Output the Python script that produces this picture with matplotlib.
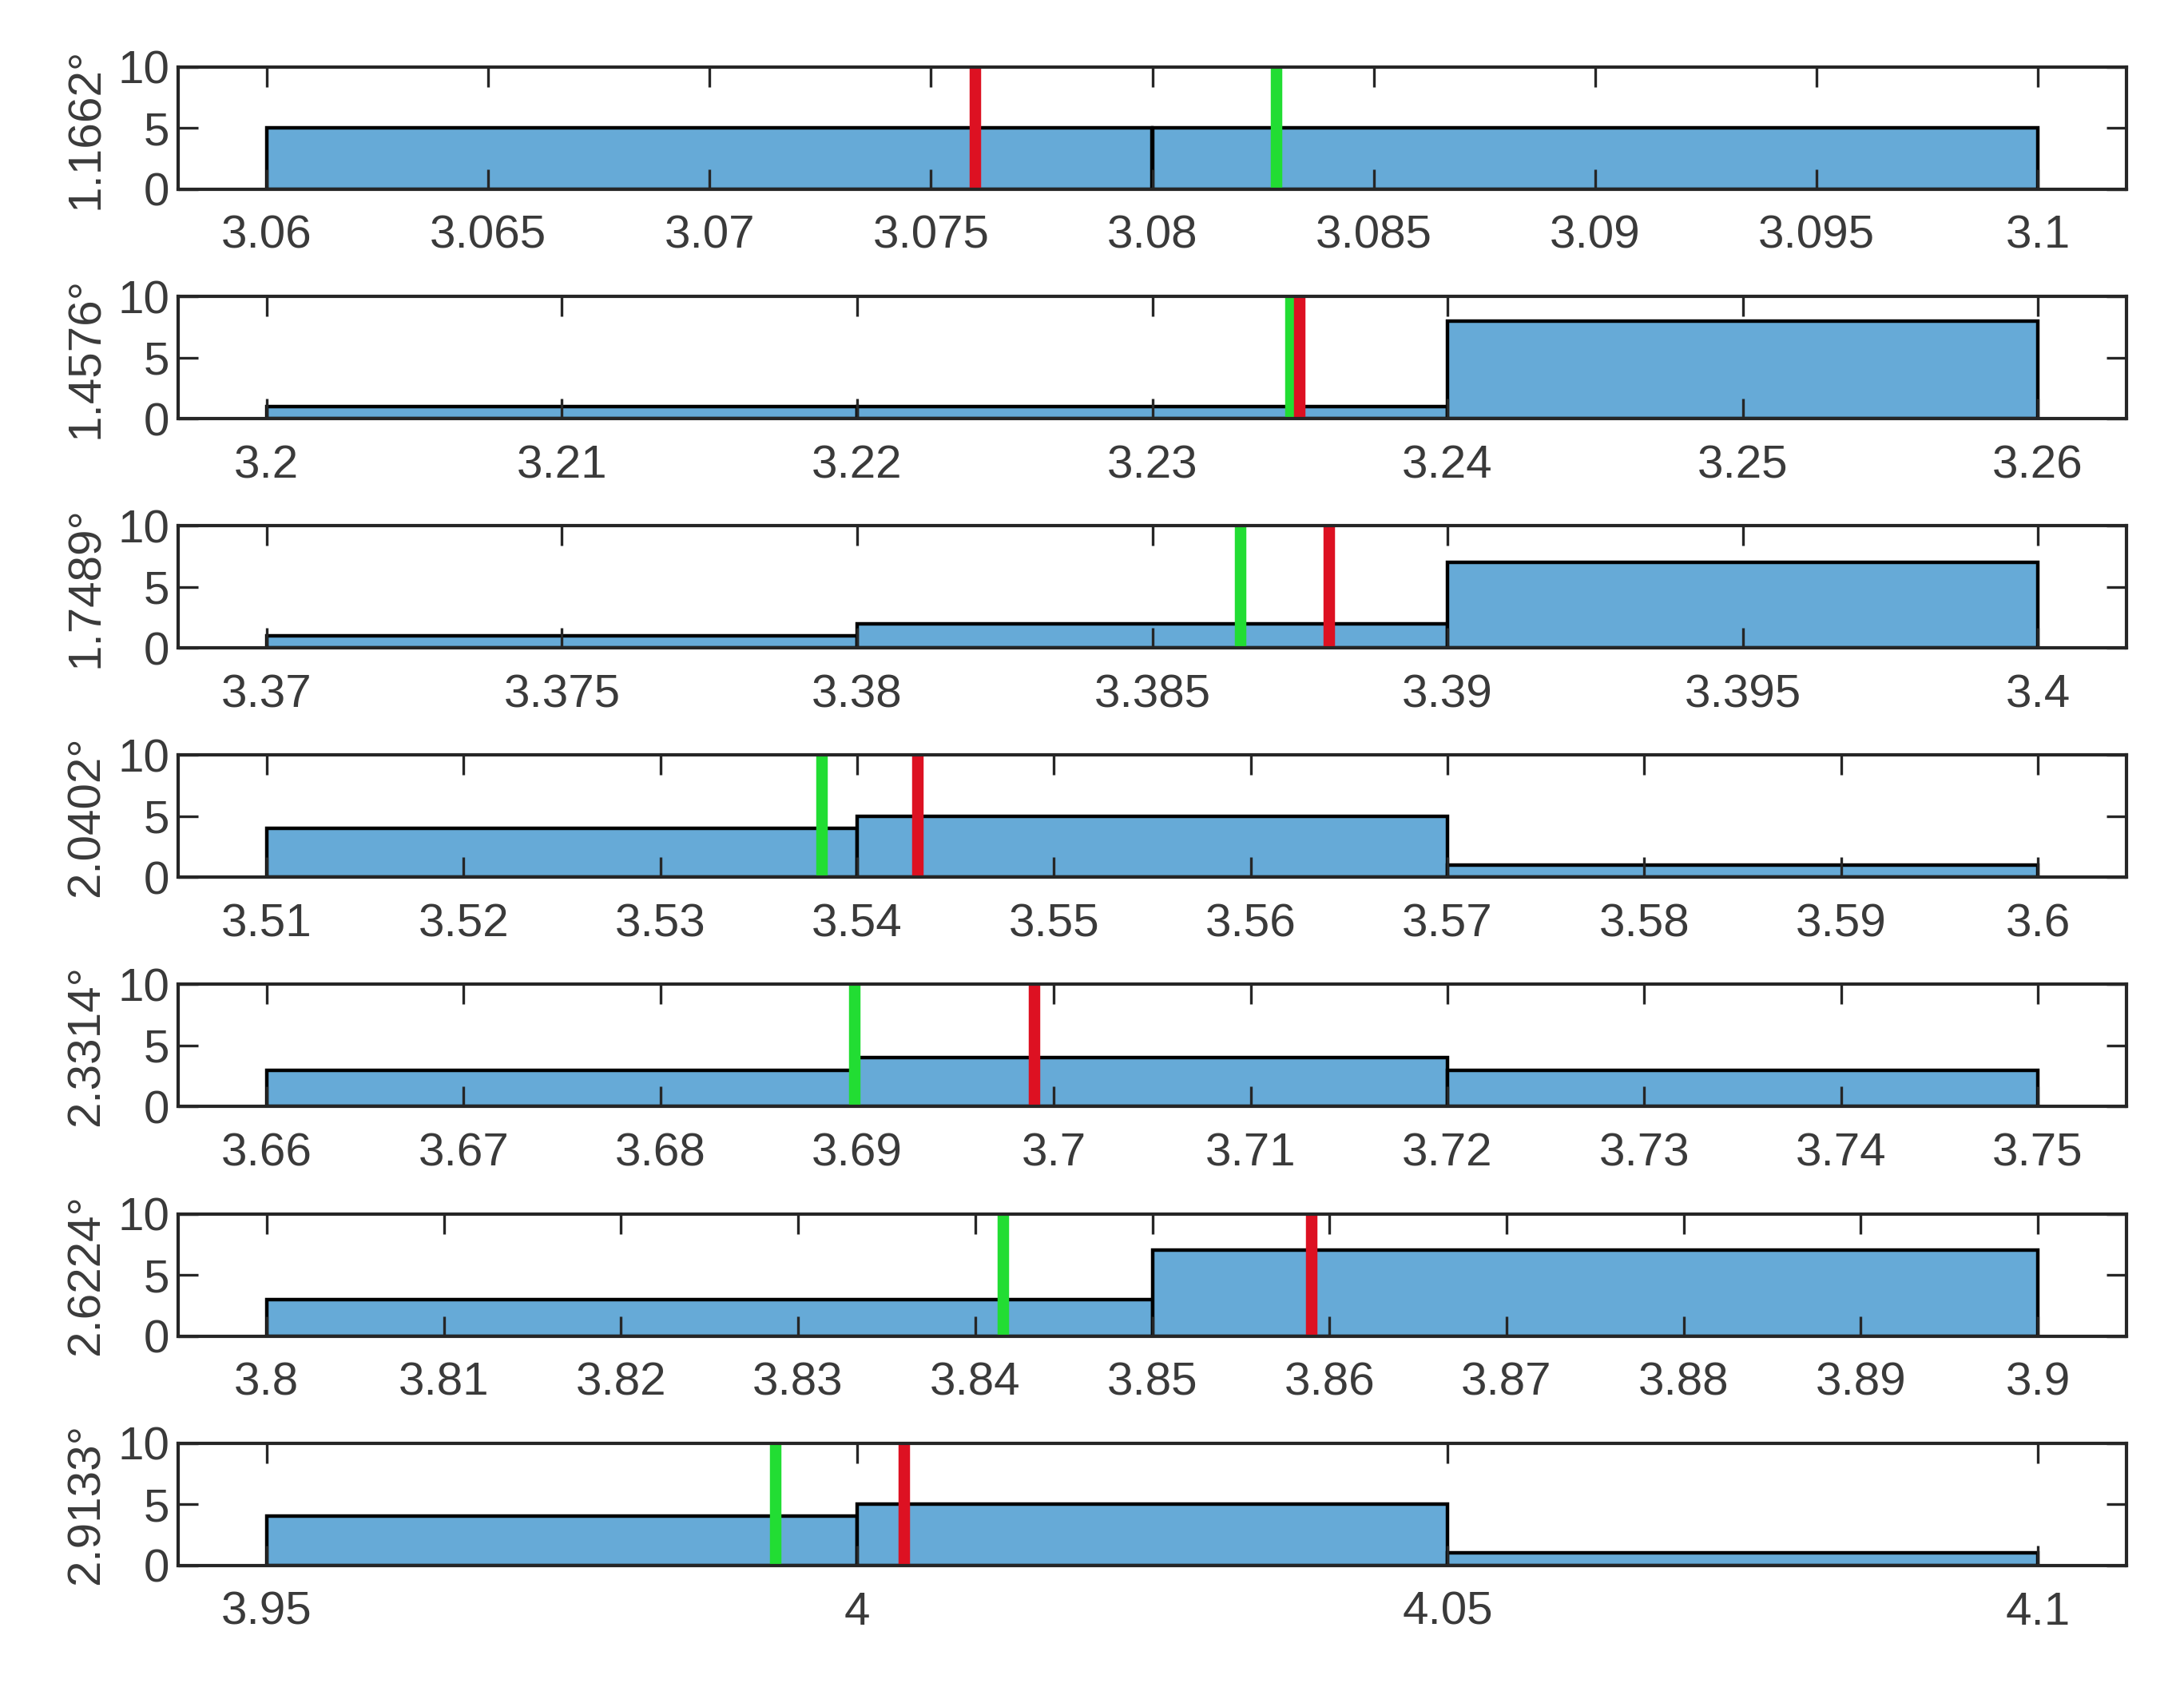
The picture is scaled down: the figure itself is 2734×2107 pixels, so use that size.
import numpy as np
import matplotlib
matplotlib.use("Agg")
import matplotlib.pyplot as plt
from matplotlib.ticker import FuncFormatter

# angle labels for each panel
angles = ["1.1662°", "1.4576°", "1.7489°", "2.0402°", "2.3314°", "2.6224°", "2.9133°"]

# histogram bin edges and counts
edges = [
    [3.06, 3.08, 3.10],
    [3.20, 3.22, 3.24, 3.26],
    [3.37, 3.38, 3.39, 3.40],
    [3.51, 3.54, 3.57, 3.60],
    [3.66, 3.69, 3.72, 3.75],
    [3.80, 3.85, 3.90],
    [3.95, 4.00, 4.05, 4.10],
]
counts = [
    [5, 5],
    [1, 1, 8],
    [1, 2, 7],
    [4, 5, 1],
    [3, 4, 3],
    [3, 7],
    [4, 5, 1],
]

# vertical marker positions
green_x = [3.0828, 3.2347, 3.3865, 3.5382, 3.6899, 3.8416, 3.9931]
red_x = [3.0760, 3.2350, 3.3880, 3.5431, 3.6990, 3.8590, 4.0040]

# tick steps for x axes
tick_step = [0.005, 0.01, 0.005, 0.01, 0.01, 0.01, 0.05]

bar_color = "#66aad7"
txt_color = "#3a3a3a"
fs = 21

plt.rcParams["font.family"] = ["Liberation Sans", "DejaVu Sans"]

W, H = 2734, 2107
fig = plt.figure(figsize=(W / 200, H / 200), dpi=200)

ax_left, ax_right = 223, 2662
top0, gap, ph = 84, 287.1, 153

for i in range(7):
    top = top0 + gap * i
    ax = fig.add_axes([ax_left / W, 1 - (top + ph) / H, (ax_right - ax_left) / W, ph / H])
    e = np.array(edges[i])
    ax.bar(e[:-1], counts[i], width=np.diff(e), align="edge", color=bar_color,
           edgecolor="black", linewidth=1.6, zorder=1)
    ax.plot([green_x[i], green_x[i]], [0, 10], color="#22dd33", lw=5.2, zorder=2)
    ax.plot([red_x[i], red_x[i]], [0, 10], color="#dd1122", lw=5.2, zorder=2)

    lo, hi = e[0], e[-1]
    pad = 0.05 * (hi - lo)
    ax.set_xlim(lo - pad, hi + pad)
    ax.set_ylim(0, 10)
    ticks = np.round(np.arange(lo, hi + tick_step[i] / 2, tick_step[i]), 4)
    ax.set_xticks(ticks)
    ax.xaxis.set_major_formatter(FuncFormatter(lambda v, p: "%g" % v))
    ax.set_yticks([0, 5, 10])

    ax.tick_params(axis="x", direction="in", top=True, bottom=True, length=9,
                   width=1.2, labelsize=fs, pad=11.5, labelcolor=txt_color, color="#262626")
    ax.tick_params(axis="y", direction="in", left=True, right=True, length=9,
                   width=1.2, labelsize=fs, pad=4, labelcolor=txt_color, color="#262626")
    for s in ax.spines.values():
        s.set_linewidth(1.5)
        s.set_color("#262626")

    ax.set_ylabel(angles[i], fontsize=fs, color=txt_color, va="center")
    ax.yaxis.set_label_coords(-0.047, 0.5)

fig.savefig("out.png", dpi=200, facecolor="white")
